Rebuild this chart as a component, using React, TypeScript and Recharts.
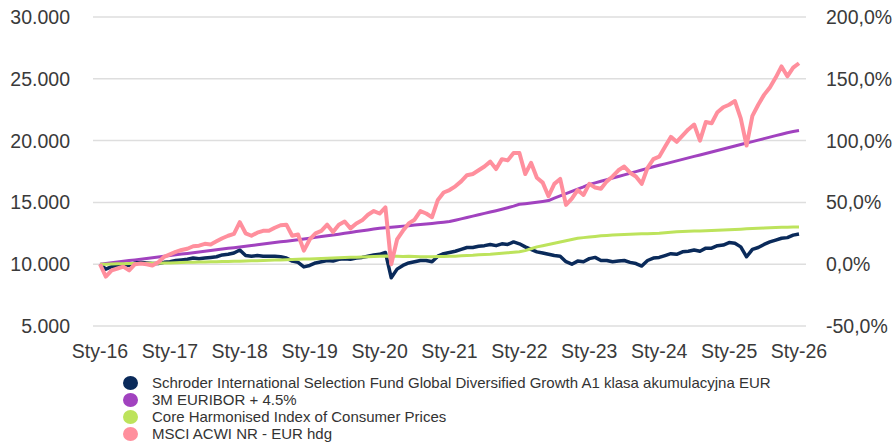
import React from 'react';
import { LineChart, Line, XAxis, YAxis, CartesianGrid } from 'recharts';

// monthly points, Jan 2016 .. Jan 2026
const xLabels = ['Sty-16', 'Sty-17', 'Sty-18', 'Sty-19', 'Sty-20', 'Sty-21', 'Sty-22', 'Sty-23', 'Sty-24', 'Sty-25', 'Sty-26'];

const schroder = [
  10000, 9600, 9800, 9900, 10000, 9900, 10100, 10150, 10100, 10050, 10050, 10150,
  10200, 10300, 10350, 10400, 10500, 10450, 10500, 10550, 10600, 10750, 10800, 10900,
  11150, 10700, 10650, 10700, 10650, 10650, 10650, 10600, 10500, 10250, 10150, 9780,
  9900, 10100, 10200, 10300, 10250, 10400, 10450, 10400, 10500, 10550, 10650, 10750,
  10800, 10950, 8900, 9600, 9900, 10100, 10200, 10300, 10300, 10200, 10650, 10850,
  10950, 11050, 11200, 11350, 11350, 11450, 11500, 11600, 11500, 11650, 11600, 11800,
  11650, 11400, 11200, 11000, 10900, 10800, 10700, 10650, 10200, 10000, 10250, 10200,
  10450, 10550, 10300, 10300, 10200, 10250, 10300, 10150, 10050, 9850, 10300, 10500,
  10550, 10700, 10850, 10800, 11000, 11050, 11150, 11050, 11300, 11300, 11500, 11550,
  11750, 11700, 11400, 10600, 11200, 11350, 11600, 11800, 11950, 12100, 12150, 12350,
  12440,
];

const euribor = [
  10000, 10060, 10120, 10180, 10240, 10300, 10350, 10410, 10470, 10530, 10590, 10650,
  10700, 10760, 10820, 10870, 10930, 10990, 11050, 11110, 11170, 11230, 11290, 11340,
  11400, 11460, 11520, 11570, 11630, 11690, 11750, 11810, 11860, 11920, 11980, 12040,
  12100, 12170, 12240, 12300, 12370, 12430, 12500, 12570, 12640, 12700, 12770, 12840,
  12900, 12940, 12990, 13030, 13080, 13120, 13170, 13210, 13260, 13300, 13350, 13400,
  13450, 13560, 13670, 13780, 13890, 14000, 14110, 14220, 14330, 14450, 14570, 14700,
  14850, 14900, 14960, 15020, 15080, 15150, 15350, 15530, 15710, 15890, 16070, 16250,
  16450, 16580, 16710, 16840, 16970, 17100, 17230, 17360, 17490, 17620, 17750, 17880,
  18000, 18120, 18240, 18360, 18480, 18600, 18720, 18840, 18960, 19080, 19200, 19320,
  19440, 19560, 19680, 19800, 19920, 20040, 20160, 20280, 20400, 20520, 20640, 20730,
  20810,
];

const hicp = [
  10000, 10000, 10010, 10030, 10040, 10050, 10050, 10060, 10070, 10080, 10080, 10100,
  10100, 10110, 10130, 10150, 10160, 10170, 10180, 10190, 10200, 10210, 10220, 10230,
  10240, 10250, 10270, 10280, 10300, 10310, 10330, 10340, 10360, 10380, 10400, 10420,
  10430, 10450, 10470, 10480, 10500, 10520, 10540, 10560, 10570, 10590, 10610, 10630,
  10650, 10660, 10650, 10640, 10630, 10640, 10620, 10610, 10600, 10610, 10620, 10630,
  10640, 10650, 10680, 10700, 10720, 10760, 10780, 10800, 10840, 10880, 10920, 10960,
  11000, 11100, 11250, 11400, 11500, 11600, 11700, 11800, 11900, 12000, 12100, 12150,
  12200, 12250, 12300, 12330, 12360, 12380, 12400, 12420, 12440, 12460, 12470, 12480,
  12500, 12540, 12580, 12620, 12640, 12660, 12680, 12690, 12700, 12720, 12740, 12760,
  12780, 12800, 12830, 12860, 12880, 12900, 12920, 12940, 12960, 12980, 12990, 13000,
  13000,
];

const msci = [
  10000, 9000, 9500, 9650, 9800, 9500, 10000, 10050, 10000, 9900, 10150, 10600,
  10800, 11000, 11150, 11250, 11450, 11500, 11650, 11600, 11850, 12100, 12300, 12450,
  13400, 12500, 12300, 12550, 12700, 12700, 12950, 13150, 13200, 12300, 12400, 11100,
  12000, 12500, 12700, 13200, 12600, 13200, 13450, 12900, 13300, 13550, 14000, 14300,
  14100, 14600, 10000, 12000, 12700, 13300, 13600, 14300, 14100, 13800, 15200, 15800,
  16000, 16300, 16700, 17200, 17300, 17600, 17900, 18300, 17700, 18500, 18400, 19000,
  19000, 17300, 18200, 17000, 16600, 15500, 16500, 16900, 14800, 15300, 16000, 15600,
  16500, 16200, 16100, 16700, 17100, 17600, 17900, 17400, 17100, 16500, 17800, 18500,
  18700, 19500, 20300, 19900, 20400, 20900, 21300, 20000, 21500, 21400, 22300, 22700,
  22900, 23200, 21800, 19600, 22000, 22900, 23700, 24300, 25100, 26000, 25200, 25900,
  26260,
];

const leftTicks = [5000, 10000, 15000, 20000, 25000, 30000];
const rightTicks = [-50, 0, 50, 100, 150, 200];

const series = [
  { key: 'schroder', name: 'Schroder International Selection Fund Global Diversified Growth A1 klasa akumulacyjna EUR', color: '#0a2a5a', width: 3.5 },
  { key: 'euribor', name: '3M EURIBOR + 4.5%', color: '#a142bf', width: 3 },
  { key: 'hicp', name: 'Core Harmonised Index of Consumer Prices', color: '#bde35c', width: 3 },
  { key: 'msci', name: 'MSCI ACWI NR - EUR hdg', color: '#ff8f9d', width: 4 },
];

// right axis is the same values shown as % change from 10.000
const data = schroder.map((v, i) => ({
  i,
  schroder: v,
  euribor: euribor[i],
  hicp: hicp[i],
  msci: msci[i],
  schroderPct: (v / 10000 - 1) * 100,
}));

const fmtThousands = (v: number) => String(v).replace(/\B(?=(\d{3})+(?!\d))/g, '.');
const fmtPct = (v: number) => v.toFixed(1).replace('.', ',') + '%';

const tickStyle = { fill: '#3a3a3a', fontSize: 19.5 };

export default function App() {
  return (
    <div style={{ position: 'absolute', left: 0, top: 0, width: 895, height: 442, background: '#fff', fontFamily: '"Liberation Sans", Arial, sans-serif', overflow: 'hidden' }}>
      <LineChart width={895} height={372} data={data} margin={{ top: 17, right: 0, left: 0, bottom: 0 }}>
        <CartesianGrid yAxisId="left" vertical={false} stroke="#dedede" strokeWidth={1.5} />
        <XAxis
          dataKey="i"
          type="number"
          domain={[0, 120]}
          ticks={xLabels.map((_, k) => k * 12)}
          tickFormatter={(v) => xLabels[v / 12]}
          padding={{ left: 7, right: 7 }}
          axisLine={false}
          tickLine={false}
          tickSize={0}
          tickMargin={18}
          height={46}
          tick={tickStyle}
          interval={0}
        />
        <YAxis
          yAxisId="left"
          domain={[5000, 30000]}
          ticks={leftTicks}
          tickFormatter={fmtThousands}
          axisLine={false}
          tickLine={false}
          tickSize={0}
          tickMargin={23}
          width={93}
          tick={tickStyle}
        />
        <YAxis
          yAxisId="right"
          orientation="right"
          domain={[-50, 200]}
          ticks={rightTicks}
          tickFormatter={fmtPct}
          axisLine={false}
          tickLine={false}
          tickSize={0}
          tickMargin={20}
          width={89}
          tick={{ ...tickStyle, textAnchor: 'start' }}
        />
        <Line
          yAxisId="right"
          dataKey="schroderPct"
          stroke="transparent"
          strokeWidth={0}
          dot={false}
          activeDot={false}
          legendType="none"
          isAnimationActive={false}
        />
        {series.map((s) => (
          <Line
            key={s.key}
            yAxisId="left"
            type="linear"
            dataKey={s.key}
            stroke={s.color}
            strokeWidth={s.width}
            strokeLinejoin="round"
            dot={false}
            isAnimationActive={false}
          />
        ))}
      </LineChart>
      <div style={{ position: 'absolute', left: 123, top: 374, fontSize: 15, color: '#333' }}>
        {series.map((s) => (
          <div key={s.key} style={{ display: 'flex', alignItems: 'center', height: 17, whiteSpace: 'nowrap' }}>
            <span style={{ display: 'inline-block', width: 15, height: 14, borderRadius: '50%', background: s.color, marginRight: 14 }} />
            <span>{s.name}</span>
          </div>
        ))}
      </div>
    </div>
  );
}
